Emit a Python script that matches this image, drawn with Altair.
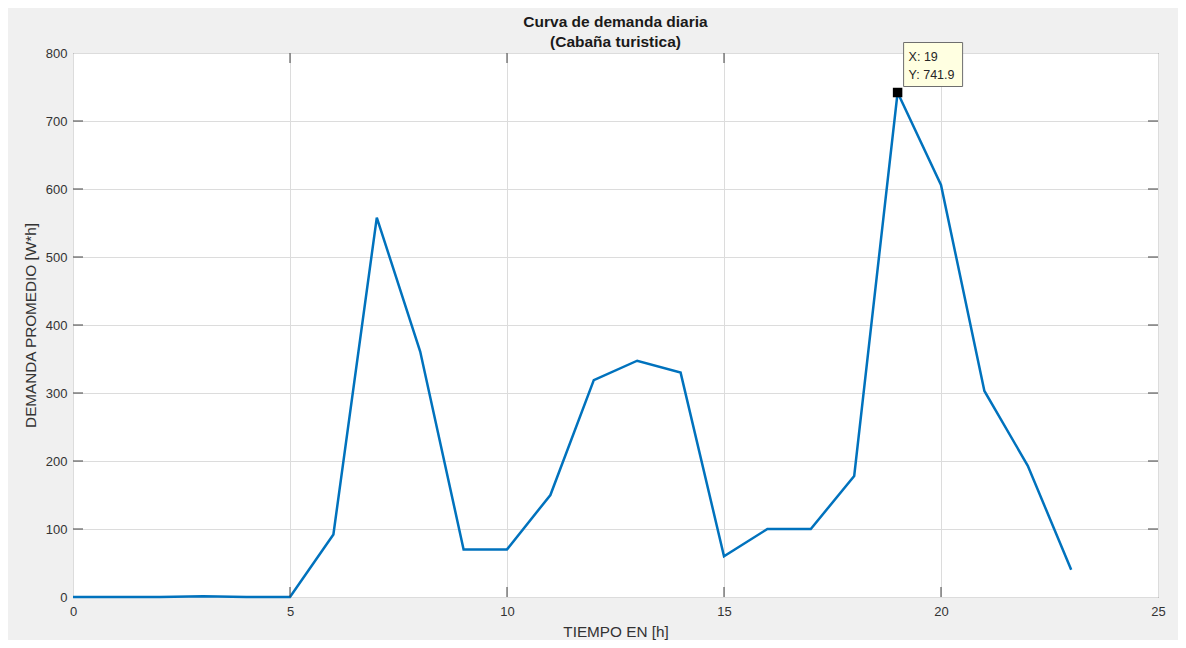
import altair as alt
import pandas as pd

hours = list(range(24))
demand = [0, 0, 0, 1, 0, 0, 92, 558, 361, 70, 70, 150, 319, 347.5, 330, 60,
          100, 100, 178, 741.9, 606, 303, 193, 40]

x_ticks = [0, 5, 10, 15, 20, 25]
y_ticks = [0, 100, 200, 300, 400, 500, 600, 700, 800]

tip_x = [19]
tip_y = [741.9]
tip_lines = ["X: 19", "Y: 741.9"]

W, H = 1085, 544
FONT = "Liberation Sans"

df = pd.DataFrame({"h": hours, "d": demand})
tip = pd.DataFrame({"h": tip_x, "d": tip_y})
tip_txt = pd.DataFrame({"h": tip_x * 2, "d": tip_y * 2, "t": tip_lines, "i": [0, 1]})
xt = pd.DataFrame({"v": x_ticks[1:-1]})
yt = pd.DataFrame({"v": y_ticks[1:-1]})

xs = alt.Scale(domain=[0, 25], nice=False, zero=False)
ys = alt.Scale(domain=[0, 800], nice=False)

line = alt.Chart(df).mark_line(color="#0072BD", strokeWidth=2.5).encode(
    x=alt.X("h:Q", scale=xs, title="TIEMPO EN [h]",
            axis=alt.Axis(values=x_ticks, format="d", labelFlush=False)),
    y=alt.Y("d:Q", scale=ys, title="DEMANDA PROMEDIO [W*h]",
            axis=alt.Axis(values=y_ticks, format="d", labelFlush=False)),
)

tick_col = "#404040"
bottom_ticks = alt.Chart(xt).mark_rule(color=tick_col, strokeWidth=1).encode(
    x=alt.X("v:Q", scale=xs), y=alt.value(H), y2=alt.value(H - 10))
top_ticks = alt.Chart(xt).mark_rule(color=tick_col, strokeWidth=1).encode(
    x=alt.X("v:Q", scale=xs), y=alt.value(0), y2=alt.value(10))
left_ticks = alt.Chart(yt).mark_rule(color=tick_col, strokeWidth=1).encode(
    y=alt.Y("v:Q", scale=ys), x=alt.value(0), x2=alt.value(10))
right_ticks = alt.Chart(yt).mark_rule(color=tick_col, strokeWidth=1).encode(
    y=alt.Y("v:Q", scale=ys), x=alt.value(W - 10), x2=alt.value(W))

marker = alt.Chart(tip).mark_point(shape="square", filled=True, color="black",
                                   size=90, opacity=1).encode(
    x=alt.X("h:Q", scale=xs), y=alt.Y("d:Q", scale=ys))

box = alt.Chart(tip).mark_rect(fill="#ffffe1", stroke="#6e6e6e", strokeWidth=1,
                               xOffset=6, x2Offset=65, yOffset=-50, y2Offset=-6,
                               clip=False).encode(
    x=alt.X("h:Q", scale=xs), x2="h:Q",
    y=alt.Y("d:Q", scale=ys), y2="d:Q")

txt0 = alt.Chart(tip_txt[tip_txt.i == 0]).mark_text(
    align="left", baseline="middle", dx=11, dy=-36, font=FONT, fontSize=12.5,
    color="#262626").encode(x=alt.X("h:Q", scale=xs), y=alt.Y("d:Q", scale=ys), text="t:N")
txt1 = alt.Chart(tip_txt[tip_txt.i == 1]).mark_text(
    align="left", baseline="middle", dx=11, dy=-18, font=FONT, fontSize=12.5,
    color="#262626").encode(x=alt.X("h:Q", scale=xs), y=alt.Y("d:Q", scale=ys), text="t:N")

chart = alt.layer(line, bottom_ticks, top_ticks, left_ticks, right_ticks,
                  marker, box, txt0, txt1).properties(
    width=W, height=H,
    title=alt.TitleParams(["Curva de demanda diaria", "(Cabaña turistica)"],
                          font=FONT, fontSize=15.5, fontWeight="bold", color="#1a1a1a",
                          anchor="middle", lineHeight=20, offset=-8),
    background="#f0f0f0",
    autosize=alt.AutoSizeParams(type="none"),
    padding={"left": 65, "top": 45, "right": 20, "bottom": 43},
).configure_view(
    stroke="#404040", strokeWidth=1, fill="white"
).configure_axis(
    grid=True, gridColor="#dcdcdc", gridWidth=1, domain=False, ticks=False,
    labelFont=FONT, labelFontSize=13, labelColor="#333333",
    titleFont=FONT, titleFontSize=15.3, titleFontWeight="normal", titleColor="#333333",
).configure_axisX(
    labelPadding=8, titlePadding=6
).configure_axisY(
    labelPadding=6, titlePadding=7
)

chart.save("out.html", embed_options={"renderer": "svg", "actions": False})
